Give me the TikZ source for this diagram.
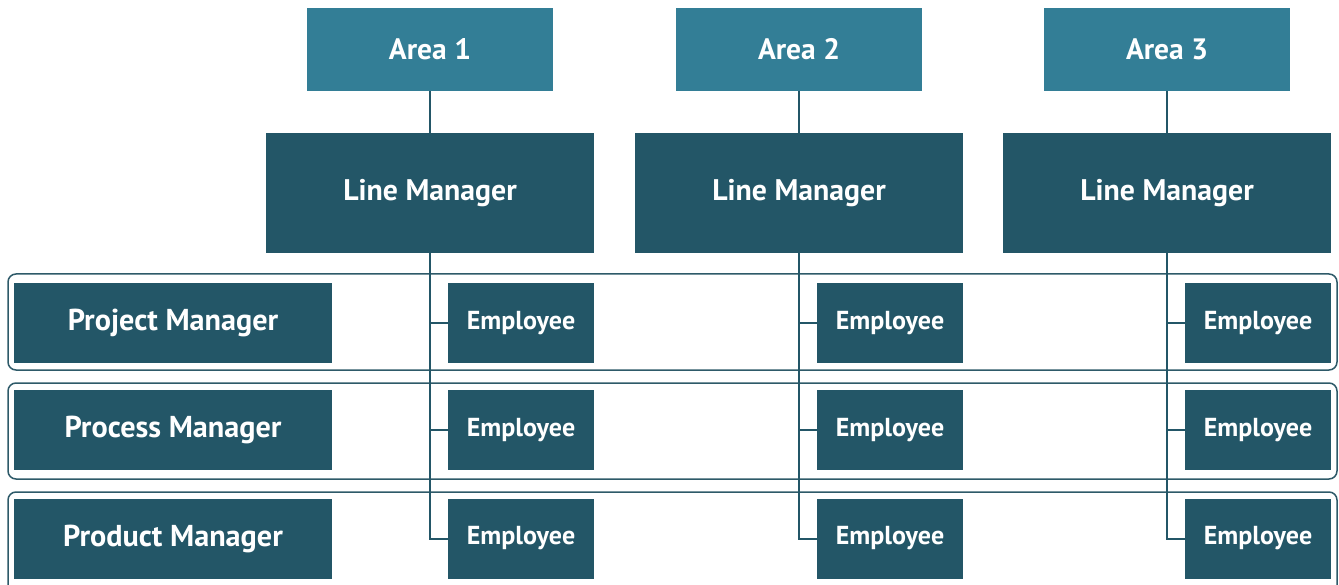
\documentclass[tikz,border=0pt]{standalone}
\usepackage{fontspec}
\setmainfont{PT Sans}
\definecolor{areablue}{HTML}{337E96}
\definecolor{darkteal}{HTML}{235667}
\definecolor{framegray}{HTML}{2E5A69}

\tikzset{
  areabox/.style={fill=areablue,text=white,inner sep=0pt,
    minimum width=246pt,minimum height=83pt,font=\bfseries\fontsize{29.5}{30}\selectfont},
  linebox/.style={fill=darkteal,text=white,inner sep=0pt,
    minimum width=328pt,minimum height=120pt,font=\bfseries\fontsize{29.8}{30}\selectfont},
  mgrbox/.style={fill=darkteal,text=white,inner sep=0pt,
    minimum width=318pt,minimum height=80pt,font=\bfseries\fontsize{30.2}{31}\selectfont},
  empbox/.style={fill=darkteal,text=white,inner sep=0pt,
    minimum width=146pt,minimum height=80pt,font=\bfseries\fontsize{26}{27}\selectfont},
  band/.style={draw=framegray,line width=1.5pt,rounded corners=8pt},
  conn/.style={draw=darkteal,line width=2pt}
}

\begin{document}
\begin{tikzpicture}[x=1pt,y=-1pt]
\useasboundingbox (0,0) rectangle (1339,585);
\clip (0,0) rectangle (1339,585);

% Bands behind the rows
\draw[band] (8,274) rectangle (1337,370);
\draw[band] (8,383) rectangle (1337,479);
\draw[band] (8,492) rectangle (1337,600);

% Areas
\node[areabox] (a1) at (430,49.5) {Area 1};
\node[areabox] (a2) at (799,49.5) {Area 2};
\node[areabox] (a3) at (1167,49.5) {Area 3};

% Line managers
\node[linebox] (lm1) at (430,193) {Line Manager};
\node[linebox] (lm2) at (799,193) {Line Manager};
\node[linebox] (lm3) at (1167,193) {Line Manager};

% Row managers
\node[mgrbox] (pjm) at (173,323) {Project Manager};
\node[mgrbox] (pcm) at (173,430) {Process Manager};
\node[mgrbox] (pdm) at (173,538.5) {Product Manager};

% Employees
\node[empbox] (e11) at (521,323) {Employee};
\node[empbox] (e12) at (521,430) {Employee};
\node[empbox] (e13) at (521,538.5) {Employee};
\node[empbox] (e21) at (890,323) {Employee};
\node[empbox] (e22) at (890,430) {Employee};
\node[empbox] (e23) at (890,538.5) {Employee};
\node[empbox] (e31) at (1258,323) {Employee};
\node[empbox] (e32) at (1258,430) {Employee};
\node[empbox] (e33) at (1258,538.5) {Employee};

\draw[conn] (a1) -- (lm1);
\draw[conn] (a2) -- (lm2);
\draw[conn] (a3) -- (lm3);

\draw[conn] (lm1) |- (e11);
\draw[conn] (lm1) |- (e12);
\draw[conn] (lm1) |- (e13);
\draw[conn] (lm2) |- (e21);
\draw[conn] (lm2) |- (e22);
\draw[conn] (lm2) |- (e23);
\draw[conn] (lm3) |- (e31);
\draw[conn] (lm3) |- (e32);
\draw[conn] (lm3) |- (e33);
\end{tikzpicture}
\end{document}
